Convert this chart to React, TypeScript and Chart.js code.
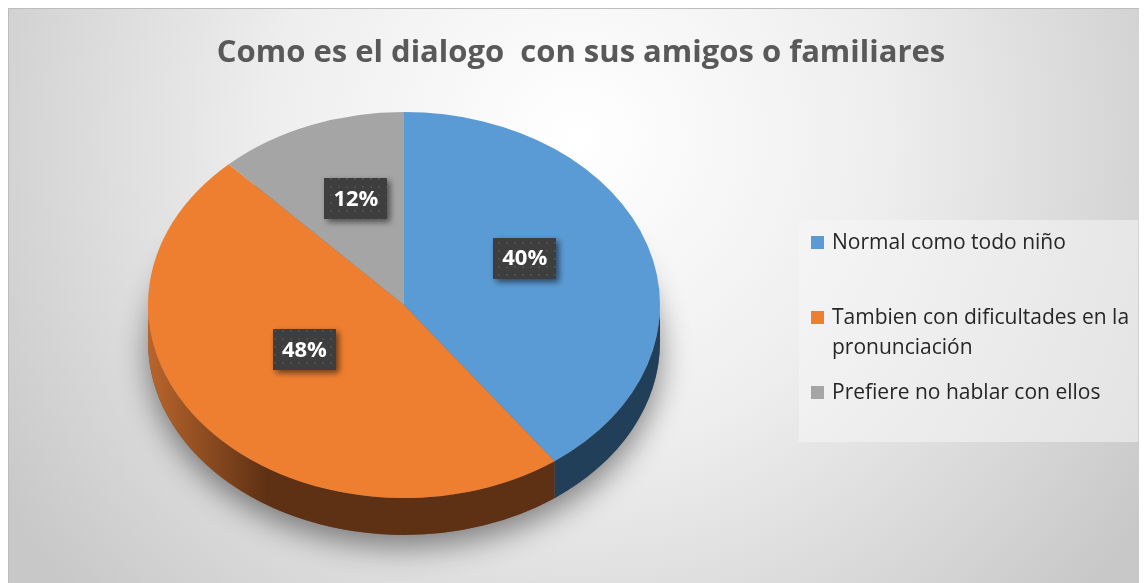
import React, { useEffect, useRef } from "react";
import { Chart, registerables } from "chart.js";

Chart.register(...registerables);

// ---- data ----
const TITLE = "Como es el dialogo  con sus amigos o familiares";
const categories: (string | string[])[] = [
  "Normal como todo niño",
  ["Tambien con dificultades en la", "pronunciación"],
  "Prefiere no hablar con ellos",
];
const values = [40, 48, 12];
const sliceColors = ["#5B9BD5", "#EF7F30", "#A5A5A5"];
const sideDark = ["#223F5A", "#5F3114", "#555555"];
const sideLight = ["#2B5076", "#B9652C", "#7A7A7A"];

// ---- layout / style ----
const W = 1139;
const H = 575;
const TILT = 0.754;
const ELLIPSE_CY = 297;
const DEPTH = 37;
const FONT = '"Open Sans", "DejaVu Sans", sans-serif';

function makePattern(ctx: CanvasRenderingContext2D) {
  const c = document.createElement("canvas");
  c.width = 8;
  c.height = 8;
  const p = c.getContext("2d")!;
  p.fillStyle = "#3E3E3E";
  p.fillRect(0, 0, 8, 8);
  p.fillStyle = "#4C4C4C";
  p.fillRect(2, 2, 2, 2);
  return ctx.createPattern(c, "repeat");
}

const pie3d = {
  id: "pie3d",
  beforeDraw(chart: any) {
    const ctx: CanvasRenderingContext2D = chart.ctx;
    ctx.save();
    const g = ctx.createRadialGradient(570, 130, 0, 570, 130, 680);
    g.addColorStop(0, "#FFFFFF");
    g.addColorStop(0.45, "#EEEEEE");
    g.addColorStop(0.8, "#D6D6D6");
    g.addColorStop(1, "#C8C8C8");
    ctx.fillStyle = g;
    ctx.fillRect(0, 0, W, H);
    ctx.strokeStyle = "#BDBDBD";
    ctx.lineWidth = 1;
    ctx.strokeRect(0.5, 0.5, W - 1, H + 2);
    ctx.restore();
  },
  beforeDatasetsDraw(chart: any) {
    const ctx: CanvasRenderingContext2D = chart.ctx;
    const arcs = chart.getDatasetMeta(0).data;
    const p0 = arcs[0].getProps(["x", "y", "outerRadius"], true);
    const cx = p0.x;
    const cyC = p0.y;
    const R = p0.outerRadius;
    const ry = R * TILT;

    // soft shadow under the disk
    ctx.save();
    ctx.shadowColor = "rgba(0,0,0,0.45)";
    ctx.shadowBlur = 30;
    ctx.shadowOffsetY = 12;
    ctx.beginPath();
    ctx.ellipse(cx, ELLIPSE_CY + DEPTH, R, ry, 0, 0, Math.PI * 2);
    ctx.fillStyle = "#666";
    ctx.fill();
    ctx.restore();

    // sides
    arcs.forEach((arc: any, i: number) => {
      const { startAngle, endAngle } = arc.getProps(["startAngle", "endAngle"], true);
      for (const off of [-2 * Math.PI, 0, 2 * Math.PI]) {
        const a = Math.max(startAngle, off);
        const b = Math.min(endAngle, off + Math.PI);
        if (b <= a) continue;
        ctx.save();
        ctx.beginPath();
        ctx.ellipse(cx, ELLIPSE_CY, R, ry, 0, a, b, false);
        ctx.lineTo(cx + R * Math.cos(b), ELLIPSE_CY + ry * Math.sin(b) + DEPTH);
        ctx.ellipse(cx, ELLIPSE_CY + DEPTH, R, ry, 0, b, a, true);
        ctx.closePath();
        const lg = ctx.createLinearGradient(cx - R, 0, cx - 40, 0);
        lg.addColorStop(0, sideLight[i]);
        lg.addColorStop(0.55, sideDark[i]);
        lg.addColorStop(1, sideDark[i]);
        ctx.fillStyle = lg;
        ctx.fill();
        ctx.restore();
      }
    });

    // tilt the top face
    ctx.save();
    ctx.translate(0, ELLIPSE_CY);
    ctx.scale(1, TILT);
    ctx.translate(0, -cyC);
  },
  afterDatasetsDraw(chart: any) {
    const ctx: CanvasRenderingContext2D = chart.ctx;
    ctx.restore();
    const arcs = chart.getDatasetMeta(0).data;
    const cyC = arcs[0].getProps(["y"], true).y;
    const pattern = makePattern(ctx);
    const total = values.reduce((s, v) => s + v, 0);
    arcs.forEach((arc: any, i: number) => {
      const pos = arc.tooltipPosition(true);
      const x = pos.x - 1;
      const y = ELLIPSE_CY + (pos.y - cyC) * TILT - 17;
      const bw = 63;
      const bh = 41;
      ctx.save();
      ctx.shadowColor = "rgba(0,0,0,0.55)";
      ctx.shadowBlur = 6;
      ctx.shadowOffsetX = 3;
      ctx.shadowOffsetY = 3;
      ctx.fillStyle = pattern || "#3E3E3E";
      ctx.fillRect(Math.round(x - bw / 2), Math.round(y - bh / 2), bw, bh);
      ctx.restore();
      ctx.save();
      ctx.fillStyle = "#FFFFFF";
      ctx.font = `bold 22px ${FONT}`;
      ctx.textAlign = "center";
      ctx.textBaseline = "middle";
      ctx.fillText(`${Math.round((values[i] / total) * 100)}%`, x, y + 1);
      ctx.restore();
    });
  },
  afterDraw(chart: any) {
    const ctx: CanvasRenderingContext2D = chart.ctx;
    ctx.save();
    // title
    ctx.fillStyle = "#595959";
    ctx.font = `bold 31px ${FONT}`;
    ctx.textAlign = "center";
    ctx.textBaseline = "middle";
    ctx.fillText(TITLE, 573, 45);

    // legend box
    ctx.fillStyle = "rgba(245,245,245,0.55)";
    ctx.fillRect(791, 212, 339, 222);
    ctx.font = `21px ${FONT}`;
    ctx.textAlign = "left";
    const labels = chart.data.labels as (string | string[])[];
    labels.forEach((lab, i) => {
      const lines = Array.isArray(lab) ? lab : [lab];
      const top = 219 + i * 75;
      const y0 = top + 15;
      ctx.fillStyle = sliceColors[i];
      ctx.fillRect(803, y0 - 6, 13, 13);
      ctx.fillStyle = "#262626";
      lines.forEach((ln, j) => ctx.fillText(ln, 824, y0 + j * 30 + 1));
    });
    ctx.restore();
  },
};

export default function App() {
  const ref = useRef<HTMLCanvasElement>(null);
  useEffect(() => {
    if (!ref.current) return;
    const chart = new Chart(ref.current, {
      type: "pie",
      data: {
        labels: categories as any,
        datasets: [
          {
            data: values,
            backgroundColor: sliceColors,
            borderWidth: 0,
          },
        ],
      },
      options: {
        responsive: false,
        animation: false,
        events: [],
        layout: { padding: { left: 140, right: 487, top: 20, bottom: 20 } },
        plugins: {
          legend: { display: false },
          title: { display: false },
          tooltip: { enabled: false },
        },
      },
      plugins: [pie3d],
    });
    return () => chart.destroy();
  }, []);
  return (
    <div style={{ width: W, height: H }}>
      <canvas ref={ref} width={W} height={H} style={{ display: "block" }} />
    </div>
  );
}
